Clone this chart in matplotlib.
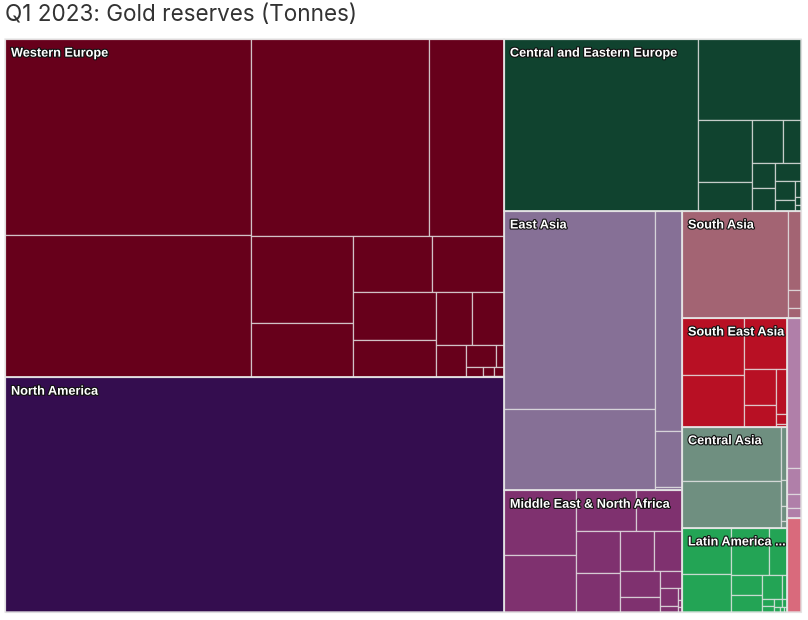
import matplotlib
matplotlib.use("Agg")
import matplotlib.pyplot as plt
from matplotlib.patches import Rectangle
import matplotlib.patheffects as pe

# Regions, biggest first
regions = [
    "Western Europe", "North America", "Central and Eastern Europe", "East Asia",
    "Middle East & North Africa", "South Asia", "South East Asia", "Central Asia",
    "Latin America ...", "Sub-Saharan Africa", "Oceania",
]
colors = [
    "#67001b", "#340d4f", "#10432f", "#867096", "#7f316f", "#a36473",
    "#b81024", "#6f8f80", "#23a455", "#b07fa9", "#d96a7c",
]
# Regions too narrow to carry a label in the picture
hide_label = ["Sub-Saharan Africa", "Oceania"]

# Tonnes per country
western_europe = [3351, 2428, 2425, 1022, 618, 379, 309, 284, 276, 216, 129, 117,
                  67, 46, 13, 12, 7, 6, 2]
north_america = [8133]
central_eastern_europe = [2319, 575, 233, 106, 93, 54, 41, 37, 32.5, 26, 14.5, 7.3, 3.5, 2.6]
east_asia = [2078, 850, 413, 105, 5.6]
mena = [324, 285, 171, 131, 128, 119, 95, 78, 72, 41, 24.5, 22.4, 7, 3.8, 2, 1.5]
south_asia = [788, 71, 16, 9]
south_east_asia = [246, 224, 152, 80, 47, 34, 7.6, 2.3]
central_asia = [372, 323, 22.5, 11, 6, 3]
latin_america = [157, 129, 124, 59, 43, 37, 34, 8, 6.4, 4.9, 4, 3, 2, 1.5, 1]
sub_saharan_africa = [146, 25, 13.6, 9.7]
oceania = [91]

countries = [
    western_europe, north_america, central_eastern_europe, east_asia, mena, south_asia,
    south_east_asia, central_asia, latin_america, sub_saharan_africa, oceania,
]


def ratio(a, b):
    return max(a / b, b / a)


def squarify(values, x, y, w, h):
    # Low aspect ratio layout, the direction flips after every finished strip
    total = sum(values)
    scale = w * h / total
    areas = [v * scale for v in sorted(values, reverse=True)]
    cells = []
    vertical = True
    strip = []
    i = 0
    while i < len(areas):
        new = strip + [areas[i]]
        if strip:
            side = h if vertical else w
            old_thick = sum(strip) / side
            new_thick = sum(new) / side
            old_r = ratio(old_thick, strip[-1] / old_thick)
            new_r = ratio(new_thick, strip[-1] / new_thick)
        if strip and new_r > old_r:
            x, y, w, h = place(strip, x, y, w, h, vertical, cells)
            vertical = not vertical
            strip = []
        else:
            strip = new
            i += 1
    if strip:
        place(strip, x, y, w, h, vertical, cells)
    return cells


def place(strip, x, y, w, h, vertical, cells):
    pos_x, pos_y = x, y
    if vertical:
        thick = sum(strip) / h
        for a in strip:
            cells.append((pos_x, pos_y, thick, a / thick))
            pos_y += a / thick
        return x + thick, y, w - thick, h
    thick = sum(strip) / w
    for a in strip:
        cells.append((pos_x, pos_y, a / thick, thick))
        pos_x += a / thick
    return x, y + thick, w, h - thick


fig = plt.figure(figsize=(8.08, 6.2), dpi=100)
ax = fig.add_axes([5 / 808, 1 - 612 / 620, 796 / 808, 573 / 620])
ax.set_xlim(0, 796)
ax.set_ylim(573, 0)
ax.axis("off")

region_totals = [sum(c) for c in countries]
region_cells = squarify(region_totals, 0, 0, 796, 573)

for name, color, vals, cell in zip(regions, colors, countries, region_cells):
    gx, gy, gw, gh = cell
    for cx, cy, cw, ch in squarify(vals, gx, gy, gw, gh):
        ax.add_patch(Rectangle((cx, cy), cw, ch, facecolor=color,
                               edgecolor=(0.9, 0.9, 0.9, 0.72), linewidth=0.9, clip_on=False))

# Region borders on top of the cells
for cell in region_cells:
    gx, gy, gw, gh = cell
    ax.add_patch(Rectangle((gx, gy), gw, gh, facecolor="none",
                           edgecolor=(0.9, 0.9, 0.9, 0.8), linewidth=1.1, clip_on=False))

for name, cell in zip(regions, region_cells):
    if name in hide_label:
        continue
    ax.text(cell[0] + 6, cell[1] + 14.6, name, color="white", fontsize=9.15,
            fontweight="bold", family="Liberation Sans", va="center", ha="left",
            path_effects=[pe.withStroke(linewidth=1.6, foreground="#111111")])

fig.text(5 / 808, 1 - 15.5 / 620, "Q1 2023: Gold reserves (Tonnes)", fontsize=16.2,
         family="Inter", color="#333333", va="center", ha="left")

fig.savefig("out.png", dpi=100, facecolor="white")
